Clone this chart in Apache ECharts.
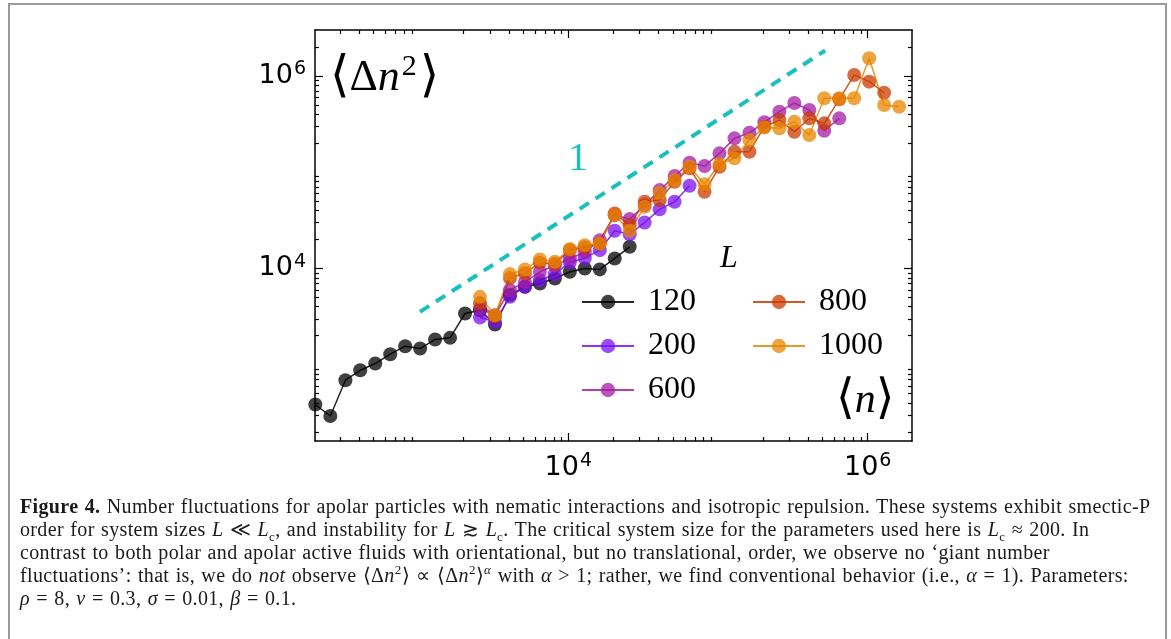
<!DOCTYPE html>
<html>
<head>
<meta charset="utf-8">
<script src="https://cdn.jsdelivr.net/npm/echarts@6/dist/echarts.min.js"></script>
<style>
  html, body { margin: 0; padding: 0; background: #fff; width: 1171px; height: 639px; overflow: hidden; }
  #frame { position: absolute; left: 8px; top: 3px; width: 1155px; height: 700px; border: 2px solid #9a9a9a; }
  #chart { position: absolute; left: 0; top: 0; width: 1171px; height: 639px; }
  #caption { position: absolute; left: 20px; top: 495px; font-family: 'Liberation Serif', serif; font-size: 20px; line-height: 23px;
    letter-spacing: 0.35px; word-spacing: 1px; color: #1a1a1a; white-space: nowrap; }
  #caption sub, #caption sup { font-size: 13px; line-height: 0; }
</style>
</head>
<body>
<div id="frame"></div>
<div id="chart"></div>
<div id="caption">
  <div><b>Figure 4.</b> Number fluctuations for apolar particles with nematic interactions and isotropic repulsion. These systems exhibit smectic-P</div>
  <div>order for system sizes <i>L</i> &#8810; <i>L</i><sub>c</sub>, and instability for <i>L</i> &#8819; <i>L</i><sub>c</sub>. The critical system size for the parameters used here is <i>L</i><sub>c</sub> &#8776; 200. In</div>
  <div>contrast to both polar and apolar active fluids with orientational, but no translational, order, we observe no &#8216;giant number</div>
  <div>fluctuations&#8217;: that is, we do <i>not</i> observe &#10216;&#916;<i>n</i><sup>2</sup>&#10217; &#8733; &#10216;&#916;<i>n</i><sup>2</sup>&#10217;<sup><i>&#945;</i></sup> with <i>&#945;</i> &gt; 1; rather, we find conventional behavior (i.e., <i>&#945;</i> = 1). Parameters:</div>
  <div><i>&#961;</i> = 8, <i>&#957;</i> = 0.3, <i>&#963;</i> = 0.01, <i>&#946;</i> = 0.1.</div>
</div>
<script>
// <n> sampled every 0.1 decade
const nValues = [204, 257, 324, 407, 513, 646, 813, 1023, 1288, 1622,
  2042, 2570, 3236, 4074, 5129, 6457, 8128, 10233, 12882, 16218,
  20417, 25704, 32359, 40738, 51286, 64565, 81283, 102329, 128825, 162181,
  204174, 257040, 323594, 407380, 512861, 645654, 812831, 1023293, 1288250, 1621810];

// <dn^2> per system size, with the index in nValues where each one starts
const start120 = 0;
const fluct120 = [385, 293, 689, 875, 1028, 1285, 1556, 1472, 1828, 1901, 3404, 3681,
  2618, 5297, 6442, 6982, 7870, 9226, 10000, 9772, 12706, 16788];
const start200 = 11;
const fluct200 = [3090, 2786, 5070, 6457, 7551, 8710, 11614, 12794, 15488, 24604,
  22594, 30061, 41115, 49317, 72277];
const start600 = 11;
const fluct600 = [3837, 3266, 5943, 7244, 9226, 10715, 12706, 14791, 19679, 35810,
  32584, 45709, 65163, 91201, 125314, 115878, 157036, 224905, 257040, 331131,
  425598, 523600, 442588, 269774, 363078];
const start800 = 11;
const fluct800 = [4365, 3162, 7943, 8913, 11482, 11220, 15488, 16596, 18197, 37325,
  28184, 49317, 51286, 79616, 109648, 62661, 114025, 163305, 163305, 297167,
  348337, 263633, 363078, 322107, 572796, 1023293, 872971, 669885];
const start1000 = 11;
const fluct1000 = [5070, 3266, 8730, 9772, 12417, 11722, 15885, 17458, 18197, 35810,
  24604, 43752, 61094, 82794, 114025, 74989, 121619, 139316, 215774, 292415,
  285759, 334965, 243220, 586138, 586138, 586138, 1527566, 498884, 479733];

// slope-1 guide
const guideX = [1020, 520000];
const guideY = [3540, 1840000];

const xMajor = [1e4, 1e6];
const xMinor = [300, 400, 500, 600, 700, 800, 900,
  2000, 3000, 4000, 5000, 6000, 7000, 8000, 9000,
  20000, 30000, 40000, 50000, 60000, 70000, 80000, 90000,
  200000, 300000, 400000, 500000, 600000, 700000, 800000, 900000];
const yMajor = [1e4, 1e6];
const yMinor = [200, 300, 400, 500, 600, 700, 800, 900,
  2000, 3000, 4000, 5000, 6000, 7000, 8000, 9000,
  20000, 30000, 40000, 50000, 60000, 70000, 80000, 90000,
  200000, 300000, 400000, 500000, 600000, 700000, 800000, 900000, 2000000];

const chart = echarts.init(document.getElementById('chart'));

const tickLabel = {
  formatter: v => '{a|10}{s|' + Math.round(Math.log10(v)) + '}',
  rich: {
    a: { fontFamily: 'DejaVu Sans', fontSize: 27, color: '#000' },
    s: { fontFamily: 'DejaVu Sans', fontSize: 19, color: '#000', padding: [0, 0, 13, 1] }
  }
};

function makeAxis(pos, min, max, ticks, len, line, labels, margin) {
  return {
    type: 'log', logBase: 10, position: pos, min: min, max: max,
    axisLine: { show: line, lineStyle: { color: '#000', width: 1.5 } },
    axisTick: { show: true, inside: true, length: len, customValues: ticks, lineStyle: { color: '#000', width: 1.2 } },
    axisLabel: labels ? Object.assign({ show: true, customValues: labels, margin: margin }, tickLabel) : { show: false },
    splitLine: { show: false },
    minorTick: { show: false }
  };
}

const xMin = 203, xMax = 1977000, yMin = 161, yMax = 3006000;

function dataSeries(name, start, vals, color) {
  return {
    name: name, type: 'line', xAxisIndex: 0, yAxisIndex: 0,
    data: vals.map((v, i) => [nValues[start + i], v]),
    symbol: 'circle', symbolSize: 14,
    lineStyle: { color: color, width: 1.5, opacity: 0.85 },
    itemStyle: { color: color, opacity: 0.75 },
    emphasis: { disabled: true }
  };
}

const legendText = { fontFamily: 'Liberation Serif', fontSize: 32, lineHeight: 32, color: '#000', padding: [0, 0, 0, 9] };

chart.setOption({
  animation: false,
  grid: { left: 315, right: 259, top: 30, bottom: 198 },
  xAxis: [
    makeAxis('bottom', xMin, xMax, xMajor, 8, true, xMajor, 11),
    makeAxis('bottom', xMin, xMax, xMinor, 4, false, null),
    makeAxis('top', xMin, xMax, xMajor, 8, true, null),
    makeAxis('top', xMin, xMax, xMinor, 4, false, null)
  ],
  yAxis: [
    makeAxis('left', yMin, yMax, yMajor, 8, true, yMajor, 9),
    makeAxis('left', yMin, yMax, yMinor, 4, false, null),
    makeAxis('right', yMin, yMax, yMajor, 8, true, null),
    makeAxis('right', yMin, yMax, yMinor, 4, false, null)
  ],
  legend: [
    { data: ['120', '200', '600'], orient: 'vertical', left: 576, top: 281, itemWidth: 52, itemHeight: 18, itemGap: 12, textStyle: legendText, selectedMode: false },
    { data: ['800', '1000'], orient: 'vertical', left: 747, top: 281, itemWidth: 52, itemHeight: 18, itemGap: 12, textStyle: legendText, selectedMode: false }
  ],
  graphic: [
    { type: 'text', x: 330, y: 78, style: { text: '{b|\u27E8}{d|\u0394}{n|n}{s|2}{b|\u27E9}', textVerticalAlign: 'middle',
      rich: {
        b: { fontFamily: 'DejaVu Sans', fontSize: 50, color: '#000' },
        d: { fontFamily: 'Liberation Serif', fontSize: 44, color: '#000' },
        n: { fontFamily: 'Liberation Serif', fontStyle: 'italic', fontSize: 44, color: '#000' },
        s: { fontFamily: 'Liberation Serif', fontSize: 30, color: '#000', padding: [0, 3, 22, 2] }
      } } },
    { type: 'text', x: 836, y: 401, style: { text: '{b|\u27E8}{n|n}{b|\u27E9}', textVerticalAlign: 'middle',
      rich: {
        b: { fontFamily: 'DejaVu Sans', fontSize: 48, color: '#000' },
        n: { fontFamily: 'Liberation Serif', fontStyle: 'italic', fontSize: 42, color: '#000' }
      } } },
    { type: 'text', x: 578, y: 159, style: { text: '1', fontFamily: 'Liberation Serif', fontSize: 40, fill: '#1bbfbf', textAlign: 'center', textVerticalAlign: 'middle' } },
    { type: 'text', x: 729, y: 259, style: { text: 'L', fontFamily: 'Liberation Serif', fontStyle: 'italic', fontSize: 32, fill: '#000', textAlign: 'center', textVerticalAlign: 'middle' } }
  ],
  series: [
    {
      name: 'guide', type: 'line', xAxisIndex: 0, yAxisIndex: 0,
      data: guideX.map((x, i) => [x, guideY[i]]),
      symbol: 'none', silent: true,
      lineStyle: { color: '#1bbfbf', width: 4, type: [11, 8] }
    },
    dataSeries('120', start120, fluct120, '#000000'),
    dataSeries('200', start200, fluct200, '#7a10f0'),
    dataSeries('600', start600, fluct600, '#a41ca4'),
    dataSeries('800', start800, fluct800, '#ca3b00'),
    dataSeries('1000', start1000, fluct1000, '#e88700')
  ]
});
</script>
</body>
</html>
